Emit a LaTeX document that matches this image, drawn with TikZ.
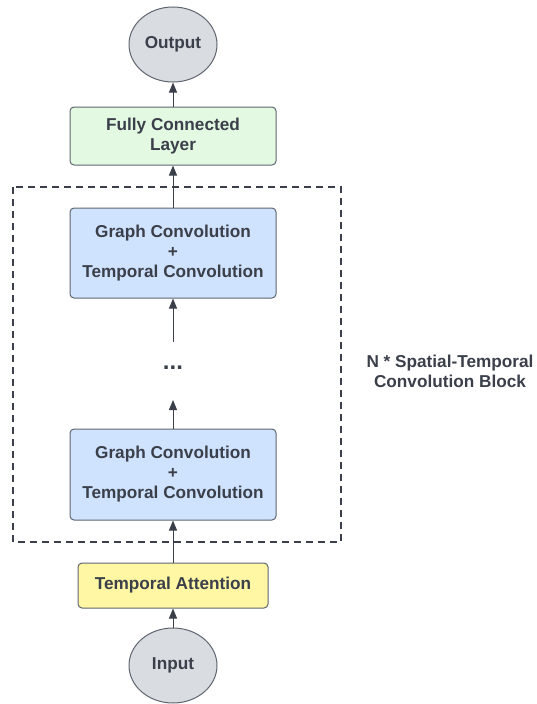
\documentclass[tikz,border=0pt]{standalone}
\usepackage{fontspec}
\setmainfont{Liberation Sans}
\usetikzlibrary{arrows.meta,shapes.geometric}
\definecolor{txt}{HTML}{3A3F4A}
\definecolor{edge}{HTML}{5F6670}
\definecolor{bluef}{HTML}{CFE3FF}
\definecolor{greenf}{HTML}{E3F9E2}
\definecolor{yellowf}{HTML}{FFF7A3}
\definecolor{grayf}{HTML}{D9DCE1}
\begin{document}
\begin{tikzpicture}[x=1pt,y=-1pt,
  every node/.style={font=\fontsize{17.2}{20}\selectfont\bfseries, text=txt, align=center, inner sep=0pt},
  boxst/.style={draw=edge, line width=1pt, rounded corners=4pt},
  ell/.style={draw=edge, line width=1pt, ellipse, fill=grayf},
  conn/.style={draw=txt, line width=1pt, -{Triangle[width=8pt,length=10pt]}}
]
\useasboundingbox (0,0) rectangle (537,704);
% dashed block
\draw[draw=txt, line width=1.1pt, dash pattern=on 7pt off 5pt] (13,187) rectangle (341,542);
% nodes
\node[ell, minimum width=88pt, minimum height=75pt] (out) at (173,44.5) {Output};
\node[boxst, fill=greenf, minimum width=206pt, minimum height=58pt] (fc) at (173,136) {Fully Connected\\Layer};
\node[boxst, fill=bluef, minimum width=206pt, minimum height=90pt] (gc1) at (173,253) {Graph Convolution\\+\\Temporal Convolution};
\node[font=\fontsize{24}{24}\selectfont\bfseries] (dots) at (173,368) {...};
\node[boxst, fill=bluef, minimum width=206pt, minimum height=91pt] (gc2) at (173,474.5) {Graph Convolution\\+\\Temporal Convolution};
\node[boxst, fill=yellowf, minimum width=190pt, minimum height=45pt] (ta) at (173,585.5) {Temporal Attention};
\node[ell, minimum width=88pt, minimum height=75pt] (in) at (173,665.5) {Input};
\node (lbl) at (450,371) {N * Spatial-Temporal\\Convolution Block};
\coordinate (a1) at (173,400);
\coordinate (a2) at (173,342);
% connectors
\draw[conn] (in) -- (ta);
\draw[conn] (ta) -- (gc2);
\draw[conn] (gc2) -- (a1);
\draw[conn] (a2) -- (gc1);
\draw[conn] (gc1) -- (fc);
\draw[conn] (fc) -- (out);
\end{tikzpicture}
\end{document}
